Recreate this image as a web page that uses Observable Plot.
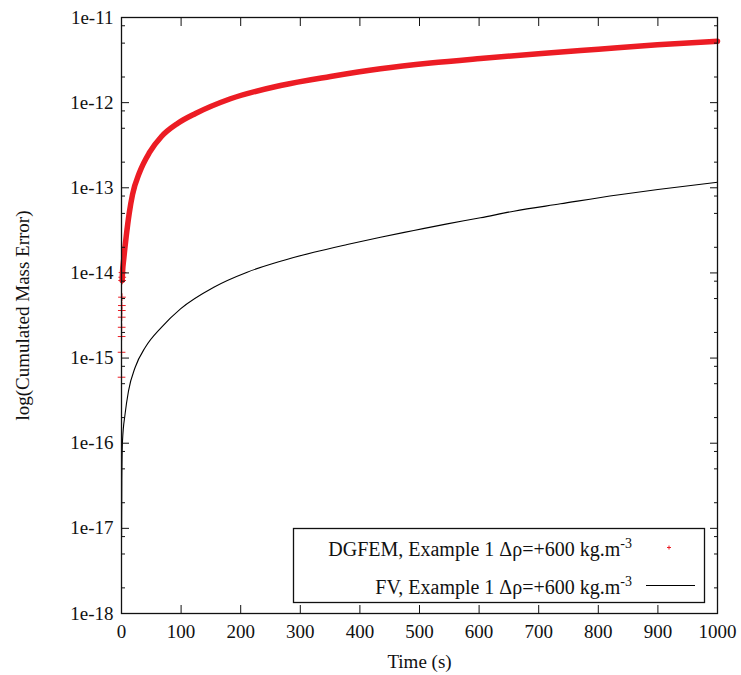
<!DOCTYPE html>
<html>
<head>
<meta charset="utf-8">
<script src="https://cdn.jsdelivr.net/npm/d3@7"></script>
<script src="https://cdn.jsdelivr.net/npm/@observablehq/plot@0.6"></script>
<style>
  html, body { margin: 0; padding: 0; background: #fff; }
  #wrap { position: relative; width: 741px; height: 675px; }
  #wrap svg.legend { position: absolute; left: 0; top: 0; pointer-events: none; }
</style>
</head>
<body>
<div id="wrap"></div>
<script>
// ---- data ----
// DGFEM: earliest time steps appear as separate "+" marks, the rest as a dense band
const dgTime  = [0.05, 0.1, 0.2, 0.3, 0.4, 0.5, 0.6, 0.8, 1.1, 1.3, 1.68, 3.86, 7.89, 12.9, 18.5, 30.2, 47, 67.1, 94, 124.2, 182.9, 266.8, 350.7, 434.6, 518.5, 602.3, 699.7, 800.3, 899.3, 1000];
const dgError = [5.96e-16, 1.17e-15, 1.79e-15, 2.30e-15, 3.02e-15, 3.62e-15, 4.14e-15, 5.19e-15, 8.15e-15, 8.9e-15, 1.01e-14, 1.48e-14, 2.68e-14, 4.99e-14, 8.34e-14, 1.51e-13, 2.60e-13, 4.00e-13, 5.69e-13, 7.45e-13, 1.11e-12, 1.59e-12, 2.03e-12, 2.50e-12, 2.92e-12, 3.30e-12, 3.75e-12, 4.24e-12, 4.78e-12, 5.27e-12];

const fvTime  = [0.1, 0.5, 1.7, 6, 11.7, 23, 40, 67, 99, 154.9, 210.9, 266.8, 322.7, 378.7, 434.6, 490.4, 546.5, 602.3, 658.2, 736.6, 832, 900, 1000];
const fvError = [8e-18, 3.6e-17, 1.07e-16, 2.2e-16, 4.1e-16, 7.8e-16, 1.34e-15, 2.3e-15, 3.79e-15, 6.80e-15, 1.02e-14, 1.37e-14, 1.75e-14, 2.16e-14, 2.63e-14, 3.15e-14, 3.77e-14, 4.44e-14, 5.31e-14, 6.48e-14, 8.23e-14, 9.54e-14, 1.16e-13];

const xTicks = [0, 100, 200, 300, 400, 500, 600, 700, 800, 900, 1000];
const yExponents = [-18, -17, -16, -15, -14, -13, -12, -11];
const yMinorMultipliers = [2, 5, 8];

const xLabel = "Time (s)";
const yLabel = "log(Cumulated Mass Error)";
const seriesNames = ["DGFEM, Example 1 \u0394\u03C1=+600 kg.m", "FV, Example 1 \u0394\u03C1=+600 kg.m"];
const seriesSup = "-3";

// ---- derived tables ----
const dg = dgTime.map((t, i) => ({t, v: dgError[i]}));
const fv = fvTime.map((t, i) => ({t, v: fvError[i]}));
const yMajor = yExponents.map(e => Math.pow(10, e));
const yMinor = yExponents.slice(0, -1).flatMap(e => yMinorMultipliers.map(m => m * Math.pow(10, e)));
const fmtY = d => "1e" + Math.round(Math.log10(d));

const RED = "#ec1c24";
const INK = "#111";
const FONT = "'Liberation Serif', 'DejaVu Serif', serif";
const none = () => "";

const chart = Plot.plot({
  width: 741,
  height: 675,
  marginLeft: 121,
  marginRight: 24,
  marginTop: 17,
  marginBottom: 62,
  x: {domain: [0, 1000]},
  y: {type: "log", domain: [1e-18, 1e-11]},
  style: {fontFamily: FONT, fontSize: "19px", color: INK, background: "#fff"},
  marks: [
    // data
    Plot.line(fv, {x: "t", y: "v", stroke: "#000", strokeWidth: 1.1, curve: "monotone-x"}),
    Plot.line(dg.filter(d => d.t >= 1.1), {x: "t", y: "v", stroke: RED, strokeWidth: 5.5, curve: "monotone-x"}),
    Plot.dot(dg.filter(d => d.t <= 1.68), {x: "t", y: "v", symbol: "plus", r: 2.6, stroke: RED, strokeWidth: 1}),
    // frame
    Plot.frame({stroke: INK, strokeWidth: 1.3}),
    // left / right y ticks
    Plot.axisY(yMajor, {anchor: "left", tickSize: -8, tickPadding: 16, tickFormat: fmtY, label: null}),
    Plot.axisY(yMinor, {anchor: "left", tickSize: -4, tickFormat: none, label: null}),
    Plot.axisY(yMajor, {anchor: "right", tickSize: -8, tickFormat: none, label: null}),
    Plot.axisY(yMinor, {anchor: "right", tickSize: -4, tickFormat: none, label: null}),
    // bottom / top x ticks
    Plot.axisX(xTicks, {anchor: "bottom", tickSize: -8, tickPadding: 19, tickFormat: d => String(d), label: null}),
    Plot.axisX(xTicks, {anchor: "top", tickSize: -8, tickFormat: none, label: null}),
    // axis titles
    Plot.text([xLabel], {frameAnchor: "bottom", dy: 48, text: d => d, textAnchor: "middle", lineAnchor: "middle"}),
    Plot.text([yLabel], {frameAnchor: "left", dx: -99, rotate: -90, text: d => d, textAnchor: "middle", lineAnchor: "middle"})
  ]
});

const wrap = document.getElementById("wrap");
wrap.appendChild(chart);

// ---- legend (inside the plot frame, lower right) ----
const ns = "http://www.w3.org/2000/svg";
const leg = document.createElementNS(ns, "svg");
leg.setAttribute("class", "legend");
leg.setAttribute("width", 741);
leg.setAttribute("height", 675);
leg.setAttribute("font-family", FONT);
leg.setAttribute("font-size", "20");
const box = document.createElementNS(ns, "rect");
box.setAttribute("x", 293.5); box.setAttribute("y", 528.5);
box.setAttribute("width", 411); box.setAttribute("height", 74);
box.setAttribute("fill", "#fff"); box.setAttribute("stroke", INK); box.setAttribute("stroke-width", 1.3);
leg.appendChild(box);
const baselines = [556, 594];
seriesNames.forEach((name, i) => {
  const tx = document.createElementNS(ns, "text");
  tx.setAttribute("x", 632); tx.setAttribute("y", baselines[i]);
  tx.setAttribute("text-anchor", "end"); tx.setAttribute("fill", INK);
  tx.appendChild(document.createTextNode(name));
  const sup = document.createElementNS(ns, "tspan");
  sup.setAttribute("dy", -8); sup.setAttribute("font-size", 14);
  sup.textContent = seriesSup;
  tx.appendChild(sup);
  leg.appendChild(tx);
});
// sample symbols
const p = document.createElementNS(ns, "path");
p.setAttribute("d", "M667,547.5h4M669,545.5v4");
p.setAttribute("stroke", RED); p.setAttribute("stroke-width", 1);
leg.appendChild(p);
const l = document.createElementNS(ns, "line");
l.setAttribute("x1", 646); l.setAttribute("x2", 695); l.setAttribute("y1", 585.5); l.setAttribute("y2", 585.5);
l.setAttribute("stroke", "#000"); l.setAttribute("stroke-width", 1.1);
leg.appendChild(l);
wrap.appendChild(leg);
</script>
</body>
</html>
